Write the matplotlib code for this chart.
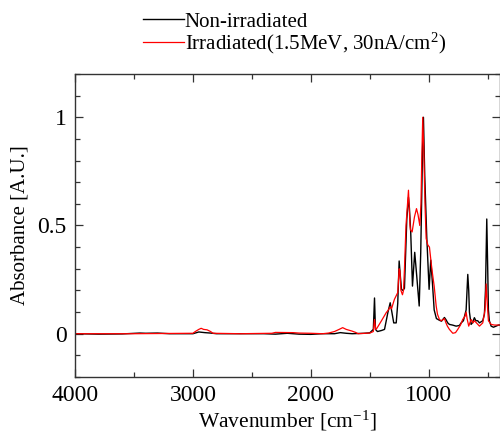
import matplotlib
matplotlib.use("Agg")
import matplotlib.pyplot as plt
from matplotlib.ticker import MultipleLocator, FixedLocator

plt.rcParams['font.family'] = ['Liberation Serif', 'DejaVu Serif']
plt.rcParams['mathtext.fontset'] = 'custom'
plt.rcParams['mathtext.rm'] = 'Liberation Serif'
plt.rcParams['mathtext.it'] = 'Liberation Serif:italic'

# ---- data ----
wn_black = [4000, 3800, 3600, 3450, 3400, 3300, 3200, 3000, 2950, 2900, 2850, 2800,
            2400, 2300, 2200, 2100, 2000, 1900, 1800, 1750, 1700, 1650, 1550, 1500,
            1470, 1460, 1452, 1435, 1400, 1375, 1347, 1327, 1316, 1297, 1276, 1263,
            1251, 1240, 1231, 1219, 1206, 1186, 1172, 1164, 1153, 1138, 1119, 1102,
            1081, 1068, 1053, 1045, 1034, 1017, 997, 983, 969, 954, 935, 909, 892,
            867, 854, 839, 825, 799, 768, 740, 725, 706, 683, 669, 661, 655, 641,
            630, 613, 600, 585, 570, 542, 528, 519, 508, 500, 494, 486, 471, 451,
            429, 409, 400]
abs_black = [0.0, -0.002, -0.001, 0.003, 0.002, 0.003, 0.0, 0.0, 0.008, 0.005, 0.003, 0.0,
             0.0, -0.002, 0.002, -0.002, -0.003, 0.0, 0.0, 0.005, 0.002, 0.0, 0.002, 0.004,
             0.02, 0.165, 0.02, 0.01, 0.015, 0.02, 0.097, 0.143, 0.11, 0.05, 0.05, 0.14,
             0.336, 0.26, 0.205, 0.2, 0.21, 0.53, 0.63, 0.58, 0.47, 0.22, 0.376, 0.267,
             0.128, 0.376, 0.84, 1.0, 0.73, 0.45, 0.205, 0.34, 0.236, 0.11, 0.07, 0.062, 0.058,
             0.075, 0.065, 0.05, 0.043, 0.04, 0.035, 0.038, 0.05, 0.06, 0.11, 0.274, 0.2, 0.1, 0.043,
             0.05, 0.074, 0.06, 0.06, 0.05, 0.06, 0.09, 0.2, 0.53, 0.3, 0.11, 0.06, 0.035, 0.03,
             0.035, 0.04, 0.04]

wn_red = [4000, 3500, 3000, 2980, 2950, 2930, 2910, 2880, 2850, 2830, 2600, 2330, 2300,
          2150, 2100, 2000, 1900, 1850, 1800, 1760, 1730, 1700, 1650, 1620, 1600, 1500,
          1470, 1460, 1450, 1440, 1403, 1361, 1342, 1327, 1316, 1291, 1263, 1251, 1244,
          1236, 1223, 1214, 1206, 1193, 1180, 1172, 1159, 1155, 1141, 1121, 1104, 1091,
          1076, 1066, 1059, 1051, 1042, 1032, 1022, 1008, 994, 980, 969, 954, 937, 926,
          909, 892, 867, 854, 842, 825, 796, 773, 754, 731, 712, 693, 683, 675, 661, 641,
          625, 613, 587, 570, 542, 523, 513, 505, 494, 471, 443, 415, 400]
abs_red = [0.0, 0.0, 0.002, 0.01, 0.02, 0.025, 0.02, 0.018, 0.01, 0.002, 0.0, 0.002, 0.006,
           0.005, 0.003, 0.002, 0.0, 0.003, 0.01, 0.02, 0.028, 0.02, 0.012, 0.006, 0.0, 0.003,
           0.01, 0.066, 0.02, 0.025, 0.058, 0.097, 0.11, 0.125, 0.115, 0.159, 0.19, 0.3, 0.29,
           0.2, 0.18, 0.2, 0.3, 0.5, 0.6, 0.663, 0.5, 0.48, 0.47, 0.54, 0.578, 0.55,
           0.5, 0.6, 0.81, 1.0, 0.85, 0.6, 0.44, 0.41, 0.4, 0.33, 0.28, 0.22, 0.128, 0.09,
           0.065, 0.06, 0.07, 0.05, 0.035, 0.02, 0.002, 0.005, 0.02, 0.04, 0.066, 0.08, 0.1, 0.07, 0.035, 0.066,
           0.05, 0.06, 0.045, 0.035, 0.05, 0.11, 0.23, 0.15, 0.06, 0.043, 0.04, 0.04, 0.04]

labels = ["Non-irradiated", r"Irradiated(1.5MeV, 30nA/cm$^{\mathregular{2}}$)"]
x_major = [4000, 3000, 2000, 1000]
y_major = [0, 0.5, 1]
y_labels = ["0", "0.5", "1"]

fig = plt.figure(figsize=(5.0, 4.37), dpi=100)
ax = fig.add_axes([0.15, 0.1373, 0.849, 0.6934])

ax.plot(wn_black, abs_black, color='black', lw=1.0, label=labels[0])
ax.plot(wn_red, abs_red, color='#ff0000', lw=0.9, label=labels[1])

ax.set_xlim(4000, 400)
ax.set_ylim(-0.2, 1.2)
ax.xaxis.set_major_locator(FixedLocator(x_major))
ax.xaxis.set_minor_locator(FixedLocator([3500, 2500, 1500, 500]))
ax.set_yticks(y_major)
ax.set_yticklabels(y_labels)
ax.yaxis.set_minor_locator(MultipleLocator(0.1))

for s in ax.spines.values():
    s.set_color('#333333')
    s.set_linewidth(1.0)
ax.tick_params(which='both', direction='in', top=True, right=True, colors='#333333',
               labelcolor='black', labelsize=17)
ax.tick_params(which='major', length=6, width=0.9, pad=6)
ax.tick_params(which='minor', length=3.6, width=0.9)

ax.set_xlabel(r"Wavenumber [cm$^{\mathregular{-1}}$]", fontsize=15.5, labelpad=2)
ax.set_ylabel("Absorbance [A.U.]", fontsize=15, labelpad=6)

leg = fig.legend(loc='upper left', bbox_to_anchor=(143/500, 1 - 12/437), frameon=False,
                 fontsize=15, handlelength=1.95, handletextpad=0.05, labelspacing=-0.05,
                 borderpad=0, borderaxespad=0)

fig.savefig("out.png", dpi=100)
